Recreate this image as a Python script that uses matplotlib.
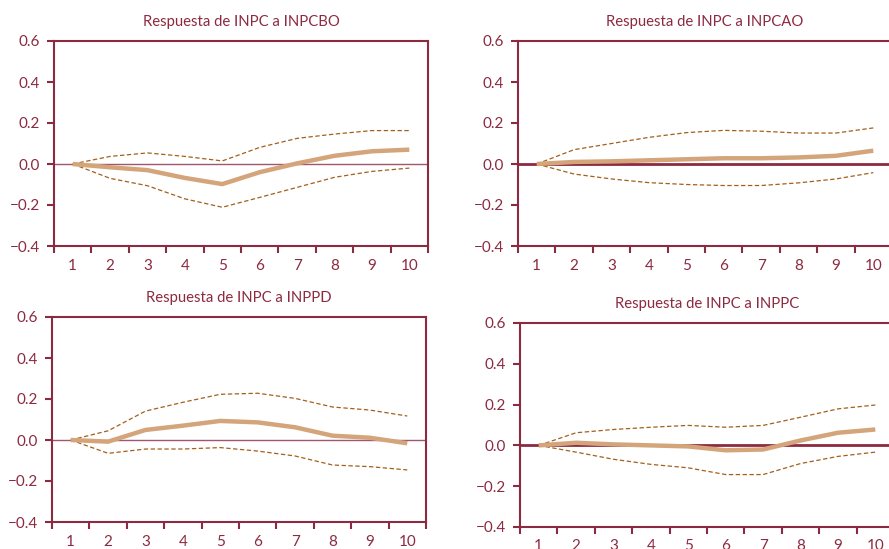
import matplotlib
matplotlib.use("Agg")
import matplotlib.pyplot as plt
from matplotlib.ticker import FixedLocator, NullFormatter

plt.rcParams['font.family'] = ['Lato', 'DejaVu Sans']

periods = [1, 2, 3, 4, 5, 6, 7, 8, 9, 10]

titles = ["Respuesta de INPC a INPCBO", "Respuesta de INPC a INPCAO",
          "Respuesta de INPC a INPPD", "Respuesta de INPC a INPPC"]

# respuesta al impulso y bandas de confianza
inpcbo = [0.0, -0.016, -0.030, -0.068, -0.098, -0.040, 0.003, 0.040, 0.062, 0.070]
inpcbo_sup = [0.0, 0.037, 0.054, 0.037, 0.015, 0.081, 0.125, 0.146, 0.163, 0.163]
inpcbo_inf = [0.0, -0.070, -0.106, -0.170, -0.211, -0.163, -0.114, -0.065, -0.036, -0.020]

inpcao = [0.0, 0.010, 0.013, 0.018, 0.023, 0.028, 0.028, 0.032, 0.040, 0.065]
inpcao_sup = [0.0, 0.070, 0.100, 0.130, 0.153, 0.164, 0.160, 0.151, 0.151, 0.176]
inpcao_inf = [0.0, -0.049, -0.073, -0.091, -0.100, -0.105, -0.105, -0.092, -0.073, -0.042]

inppd = [0.0, -0.008, 0.049, 0.070, 0.093, 0.086, 0.062, 0.021, 0.011, -0.016]
inppd_sup = [0.0, 0.045, 0.141, 0.184, 0.223, 0.228, 0.203, 0.161, 0.146, 0.117]
inppd_inf = [0.0, -0.065, -0.044, -0.044, -0.037, -0.054, -0.078, -0.122, -0.130, -0.146]

inppc = [0.0, 0.013, 0.005, 0.0, -0.005, -0.024, -0.020, 0.024, 0.062, 0.078]
inppc_sup = [0.0, 0.062, 0.078, 0.089, 0.098, 0.089, 0.098, 0.138, 0.179, 0.198]
inppc_inf = [0.0, -0.033, -0.068, -0.093, -0.110, -0.143, -0.143, -0.089, -0.054, -0.033]

series = [(inpcbo, inpcbo_sup, inpcbo_inf),
          (inpcao, inpcao_sup, inpcao_inf),
          (inppd, inppd_sup, inppd_inf),
          (inppc, inppc_sup, inppc_inf)]

MAROON = "#8c2a41"
TAN = "#d4a57b"
BROWN = "#a3601c"

W, H = 889, 549
# caja de cada panel en pixeles: izquierda, arriba, ancho, alto
boxes = [(54, 41, 374, 205), (518, 41, 374, 205),
         (52, 317, 374, 205), (520, 323, 374, 204)]
zero_lw = [1.0, 2.0, 1.0, 2.0]
zero_col = ["#a0566c", MAROON, "#a0566c", MAROON]

fig = plt.figure(figsize=(W / 100, H / 100), dpi=100)

for i in range(4):
    x0, y0, w, h = boxes[i]
    ax = fig.add_axes([x0 / W, 1 - (y0 + h) / H, w / W, h / H])
    resp, sup, inf = series[i]
    ax.axhline(0, color=zero_col[i], lw=zero_lw[i], zorder=1)
    ax.plot(periods, sup, color=BROWN, lw=0.9, ls=(0, (3.5, 2)), zorder=2)
    ax.plot(periods, inf, color=BROWN, lw=0.9, ls=(0, (3.5, 2)), zorder=2)
    ax.plot(periods, resp, color=TAN, lw=3.2, solid_capstyle='butt', zorder=3)

    ax.set_xlim(0.5, 10.5)
    ax.set_ylim(-0.4, 0.6)
    ax.set_yticks([-0.4, -0.2, 0.0, 0.2, 0.4, 0.6])
    ax.set_yticklabels(["\u22120.4", "\u22120.2", "0.0", "0.2", "0.4", "0.6"])

    ax.xaxis.set_major_locator(FixedLocator([p + 0.5 for p in [0] + periods]))
    ax.xaxis.set_major_formatter(NullFormatter())
    ax.set_xticks(periods, minor=True)
    ax.set_xticklabels([str(p) for p in periods], minor=True)
    ax.tick_params(axis='x', which='major', direction='out', length=5,
                   width=1.5, color=MAROON)
    ax.tick_params(axis='x', which='minor', length=0, pad=9,
                   labelsize=11, labelcolor=MAROON)
    ax.tick_params(axis='y', direction='out', length=5, width=1.5,
                   color=MAROON, labelsize=11, labelcolor=MAROON, pad=5)

    for s in ax.spines.values():
        s.set_color(MAROON)
        s.set_linewidth(1.5)

    ax.set_title(titles[i], fontsize=10.7, color=MAROON, pad=11)

fig.savefig("out.png", dpi=100)
